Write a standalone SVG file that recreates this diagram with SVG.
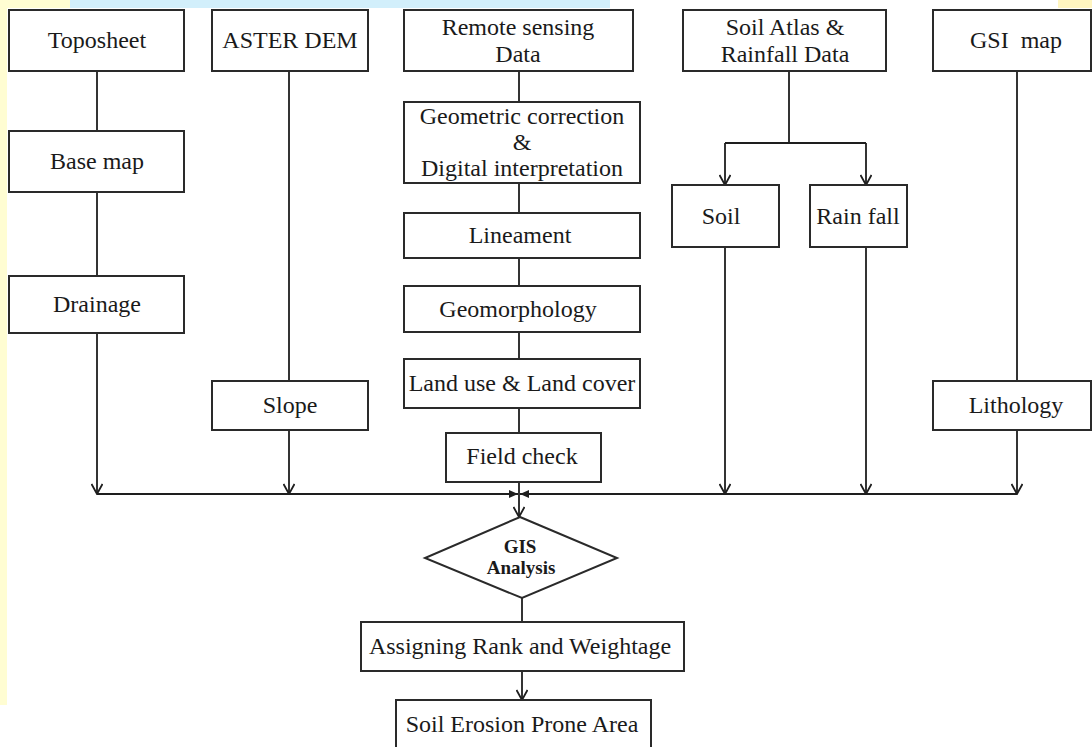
<svg xmlns="http://www.w3.org/2000/svg" width="1092" height="747" viewBox="0 0 1092 747">
<style>
.box{fill:#fff;stroke:#2a2a2a;stroke-width:2}
.t{font-family:"Liberation Serif","Times New Roman",serif;font-size:24px;fill:#1a1a1a;text-anchor:middle;white-space:pre}
.b{font-family:"Liberation Serif","Times New Roman",serif;font-size:19px;font-weight:bold;fill:#1a1a1a;text-anchor:middle}
.ln{fill:none;stroke:#1e1e1e;stroke-width:1.8}
.arr{marker-end:url(#v)}
.fa{marker-end:url(#f)}
</style>
<defs>
<marker id="v" viewBox="0 0 12 12" refX="11" refY="6" markerWidth="12" markerHeight="12" markerUnits="userSpaceOnUse" orient="auto">
<path d="M1,0.5 L11,6 L1,11.5" fill="none" stroke="#1e1e1e" stroke-width="1.8"/>
</marker>
<marker id="f" viewBox="0 0 9 8" refX="9" refY="4" markerWidth="9" markerHeight="8" markerUnits="userSpaceOnUse" orient="auto">
<path d="M0,0 L9,4 L0,8 z" fill="#1e1e1e"/>
</marker>
</defs>
<rect x="0" y="0" width="1092" height="747" fill="#fff"/>
<rect x="0" y="0" width="7" height="705" fill="#fffdd2"/>
<rect x="0" y="0" width="70" height="8" fill="#fffdd2"/>
<rect x="70" y="0" width="540" height="8" fill="#d2effb"/>
<rect x="1058" y="0" width="34" height="8" fill="#fff5c0"/>

<g id="connectors">
<path class="ln" d="M97,71 V131"/>
<path class="ln" d="M97,192 V276"/>
<path class="ln arr" d="M97,333 V494"/>
<path class="ln" d="M289,71 V381"/>
<path class="ln arr" d="M289,430 V494"/>
<path class="ln" d="M519,71 V102"/>
<path class="ln" d="M519,183 V213"/>
<path class="ln" d="M519,258 V286"/>
<path class="ln" d="M519,332 V359"/>
<path class="ln" d="M519,408 V433"/>
<path class="ln" d="M519,482 V494"/>
<path class="ln" d="M789,71 V143"/>
<path class="ln" d="M725,143 H866"/>
<path class="ln arr" d="M725,143 V185"/>
<path class="ln arr" d="M866,143 V185"/>
<path class="ln arr" d="M725,247 V494"/>
<path class="ln arr" d="M866,247 V494"/>
<path class="ln" d="M1017,71 V381"/>
<path class="ln arr" d="M1017,430 V494"/>
<path class="ln fa" d="M97,494 H518"/>
<path class="ln fa" d="M1017,494 H520"/>
<path class="ln arr" d="M519,494 V517"/>
<path class="ln" d="M522,598 V622"/>
<path class="ln arr" d="M522,671 V700"/>
</g>

<g id="toposheet"><rect class="box" x="9" y="10" width="175" height="61"/><text class="t" x="97" y="48">Toposheet</text></g>
<g id="basemap"><rect class="box" x="9" y="131" width="175" height="61"/><text class="t" x="97" y="169">Base map</text></g>
<g id="drainage"><rect class="box" x="9" y="276" width="175" height="57"/><text class="t" x="97" y="312">Drainage</text></g>

<g id="asterdem"><rect class="box" x="212" y="10" width="156" height="61"/><text class="t" x="290" y="48">ASTER DEM</text></g>
<g id="slope"><rect class="box" x="212" y="381" width="156" height="49"/><text class="t" x="290" y="413">Slope</text></g>

<g id="remotesensing"><rect class="box" x="404" y="10" width="229" height="61"/><text class="t" x="518" y="35">Remote sensing</text><text class="t" x="518" y="62">Data</text></g>
<g id="geometric"><rect class="box" x="404" y="102" width="236" height="81"/><text class="t" x="522" y="124">Geometric correction</text><text class="t" x="522" y="150">&amp;</text><text class="t" x="522" y="176">Digital interpretation</text></g>
<g id="lineament"><rect class="box" x="404" y="213" width="236" height="45"/><text class="t" x="520" y="243">Lineament</text></g>
<g id="geomorphology"><rect class="box" x="404" y="286" width="236" height="46"/><text class="t" x="518" y="317">Geomorphology</text></g>
<g id="landuse"><rect class="box" x="404" y="359" width="236" height="49"/><text class="t" x="522" y="391">Land use &amp; Land cover</text></g>
<g id="fieldcheck"><rect class="box" x="446" y="433" width="155" height="49"/><text class="t" x="522" y="464">Field check</text></g>

<g id="soilatlas"><rect class="box" x="683" y="10" width="203" height="61"/><text class="t" x="785" y="35">Soil Atlas &amp;</text><text class="t" x="785" y="62">Rainfall Data</text></g>
<g id="soil"><rect class="box" x="672" y="185" width="107" height="62"/><text class="t" x="721" y="224">Soil</text></g>
<g id="rainfall"><rect class="box" x="810" y="185" width="97" height="62"/><text class="t" x="858" y="224">Rain fall</text></g>

<g id="gsimap"><rect class="box" x="933" y="10" width="158" height="61"/><text class="t" x="1016" y="48" xml:space="preserve">GSI  map</text></g>
<g id="lithology"><rect class="box" x="933" y="381" width="158" height="49"/><text class="t" x="1016" y="413">Lithology</text></g>

<g id="gis"><polygon class="box" points="520,517 617,558 522,598 425,558"/><text class="b" x="520" y="553">GIS</text><text class="b" x="521" y="574">Analysis</text></g>
<g id="assigning"><rect class="box" x="361" y="622" width="323" height="49"/><text class="t" x="520" y="654">Assigning Rank and Weightage</text></g>
<g id="erosion"><rect class="box" x="396" y="700" width="255" height="60"/><text class="t" x="522" y="732">Soil Erosion Prone Area</text></g>
</svg>
